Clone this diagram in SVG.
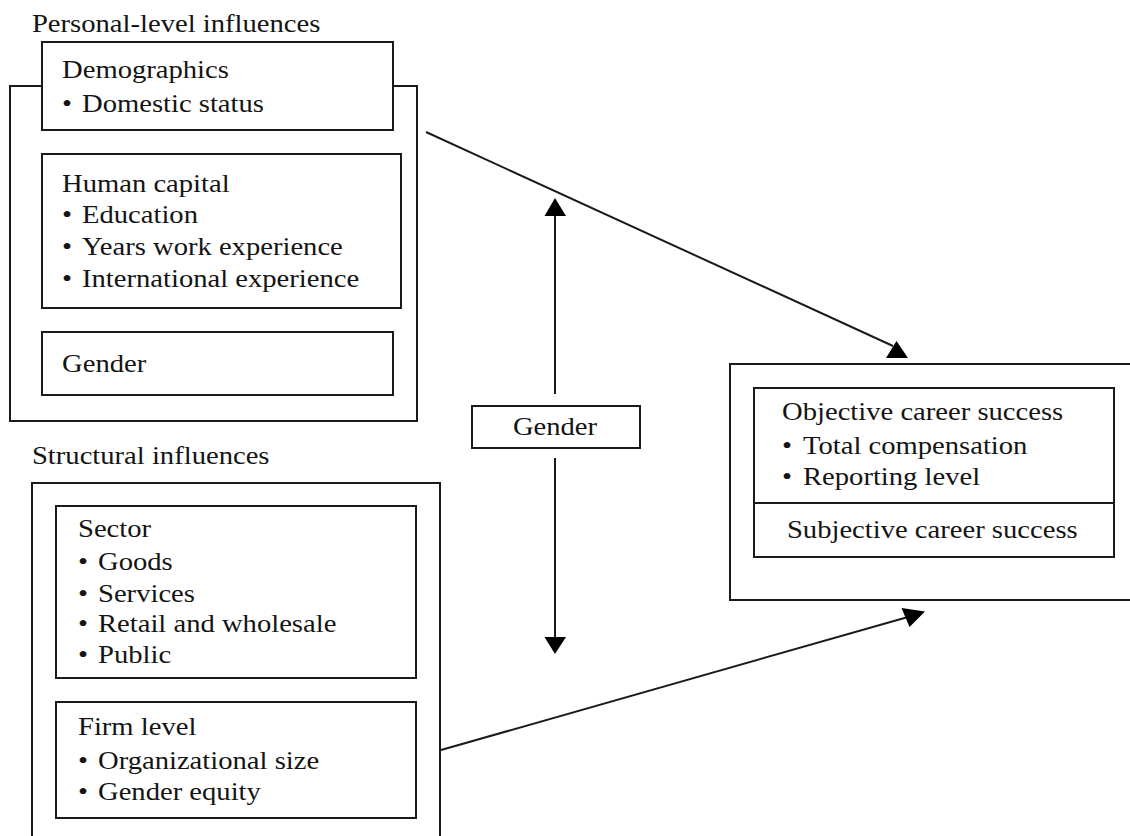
<svg xmlns="http://www.w3.org/2000/svg" width="1130" height="836" viewBox="0 0 1130 836">
<style>
.box{fill:#fff;stroke:#1a1a1a;stroke-width:2}
.ln{fill:none;stroke:#1a1a1a;stroke-width:2}
.ah{fill:#000;stroke:none}
text{font-family:"Liberation Serif","Times New Roman",serif;font-size:25px;fill:#141414}
.mid{text-anchor:middle}
</style>
<rect width="1130" height="836" fill="#fff"/>
<g id="personal">
  <rect class="box" x="10" y="86" width="407" height="335"/>
  <g transform="scale(1.145 1)"><text x="27.9" y="32">Personal-level influences</text></g>
  <g id="demographics">
    <rect class="box" x="42" y="42" width="351" height="88"/>
    <g transform="scale(1.145 1)">
      <text x="54.2" y="78">Demographics</text>
      <text x="54.2" y="112">•</text><text x="71.6" y="112">Domestic status</text>
    </g>
  </g>
  <g id="human-capital">
    <rect class="box" x="42" y="154" width="359" height="154"/>
    <g transform="scale(1.145 1)">
      <text x="54.2" y="192">Human capital</text>
      <text x="54.2" y="223">•</text><text x="71.6" y="223">Education</text>
      <text x="54.2" y="255">•</text><text x="71.6" y="255">Years work experience</text>
      <text x="54.2" y="287">•</text><text x="71.6" y="287">International experience</text>
    </g>
  </g>
  <g id="gender-personal">
    <rect class="box" x="42" y="332" width="351" height="63"/>
    <g transform="scale(1.145 1)"><text x="54.2" y="372">Gender</text></g>
  </g>
</g>
<g id="structural">
  <rect class="box" x="32" y="483" width="408" height="400"/>
  <g transform="scale(1.145 1)"><text x="27.9" y="464">Structural influences</text></g>
  <g id="sector">
    <rect class="box" x="56" y="506" width="360" height="172"/>
    <g transform="scale(1.145 1)">
      <text x="68.1" y="537">Sector</text>
      <text x="68.1" y="570">•</text><text x="85.6" y="570">Goods</text>
      <text x="68.1" y="602">•</text><text x="85.6" y="602">Services</text>
      <text x="68.1" y="632">•</text><text x="85.6" y="632">Retail and wholesale</text>
      <text x="68.1" y="663">•</text><text x="85.6" y="663">Public</text>
    </g>
  </g>
  <g id="firm-level">
    <rect class="box" x="56" y="702" width="360" height="116"/>
    <g transform="scale(1.145 1)">
      <text x="68.1" y="735">Firm level</text>
      <text x="68.1" y="769">•</text><text x="85.6" y="769">Organizational size</text>
      <text x="68.1" y="800">•</text><text x="85.6" y="800">Gender equity</text>
    </g>
  </g>
</g>
<g id="gender-moderator">
  <rect class="box" x="472" y="406" width="168" height="42"/>
  <g transform="scale(1.145 1)"><text class="mid" x="484.7" y="435">Gender</text></g>
</g>
<g id="career-success">
  <rect class="box" x="730" y="364" width="420" height="236"/>
  <rect class="box" x="754" y="388" width="360" height="169"/>
  <line class="ln" x1="754" y1="503" x2="1114" y2="503"/>
  <g transform="scale(1.145 1)">
    <text x="683" y="420">Objective career success</text>
    <text x="683" y="454">•</text><text x="701.3" y="454">Total compensation</text>
    <text x="683" y="485">•</text><text x="701.3" y="485">Reporting level</text>
    <text x="687.3" y="538">Subjective career success</text>
  </g>
</g>
<g id="connectors">
  <line class="ln" x1="426" y1="132" x2="893" y2="346"/>
  <polygon class="ah" points="886,358 908,358 896.5,341"/>
  <line class="ln" x1="555" y1="214" x2="555" y2="394"/>
  <polygon class="ah" points="555,198 544.5,216 566,216"/>
  <line class="ln" x1="555" y1="458" x2="555" y2="638"/>
  <polygon class="ah" points="544.5,637 566,637 555,654"/>
  <line class="ln" x1="441" y1="750" x2="908" y2="617"/>
  <polygon class="ah" points="901.5,608 925,611.5 909.5,627"/>
</g>
</svg>
